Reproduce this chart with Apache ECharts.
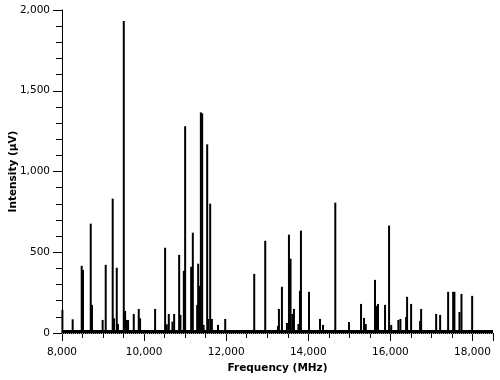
<!DOCTYPE html>
<html>
<head>
<meta charset="utf-8">
<script src="https://cdn.jsdelivr.net/npm/echarts@6/dist/echarts.min.js"></script>
<style>
body { margin: 0; padding: 0; background: #fff; }
#main { width: 500px; height: 380px; }
</style>
</head>
<body>
<div id="main"></div>
<script>
// peak positions (MHz) and heights (uV)
var freqs = [8010, 8260, 8480, 8512, 8700, 8730, 8990, 9065, 9235, 9268,
  9334, 9365, 9505, 9537, 9578, 9610, 9748, 9870, 9902, 10268,
  10512, 10553, 10602, 10690, 10732, 10854, 10885, 10968, 11000, 11146,
  11187, 11293, 11317, 11350, 11383, 11415, 11450, 11537, 11561, 11610,
  11651, 11800, 11976, 12683, 12951, 13260, 13285, 13358, 13480, 13529,
  13568, 13610, 13651, 13760, 13797, 13821, 14017, 14285, 14358, 14658,
  14992, 15285, 15358, 15400, 15626, 15666, 15699, 15870, 15968, 16020,
  16195, 16244, 16383, 16407, 16505, 16724, 16749, 17115, 17212, 17407,
  17529, 17560, 17683, 17732, 17992]
var intensity = [143, 85, 416, 391, 677, 174, 81, 422, 832, 91,
  404, 56, 1932, 137, 81, 80, 118, 149, 91, 149,
  528, 54, 118, 70, 118, 484, 112, 385, 1280, 410,
  621, 174, 429, 292, 1366, 1360, 50, 1168, 87, 801,
  87, 50, 87, 366, 571, 43, 149, 286, 62, 609,
  460, 118, 149, 56, 261, 634, 255, 87, 50, 807,
  68, 180, 93, 56, 329, 168, 180, 174, 665, 50,
  81, 87, 99, 224, 180, 75, 149, 118, 112, 255,
  255, 255, 130, 242, 230]
// noise floor level
var floorFreq = [8000, 18500]
var floorLevel = [9, 9]

var peaks = []
for (var i = 0; i < freqs.length; i++) {
  peaks.push([freqs[i], intensity[i]])
}
var floor = []
for (var j = 0; j < floorFreq.length; j++) {
  floor.push([floorFreq[j], floorLevel[j]])
}

var fnt = 'DejaVu Sans'
function commas (v) {
  return String(v).replace(/\B(?=(\d{3})+(?!\d))/g, ',')
}

var myChart = echarts.init(document.getElementById('main'))
myChart.setOption({
  animation: false,
  grid: { left: 62, right: 7, top: 10, bottom: 47, containLabel: false, outerBoundsMode: 'none' },
  xAxis: {
    type: 'value',
    min: 8000,
    max: 18500,
    interval: 2000,
    offset: 2,
    name: 'Frequency (MHz)',
    nameLocation: 'middle',
    nameGap: 27,
    nameTextStyle: { fontFamily: fnt, fontSize: 10.5, fontWeight: 'bold', color: '#000' },
    axisLine: { lineStyle: { color: '#000', width: 1 } },
    axisTick: { length: 8, lineStyle: { color: '#000' } },
    minorTick: { show: true, splitNumber: 4, length: 5, lineStyle: { color: '#000' } },
    splitLine: { show: false },
    axisLabel: {
      margin: 12,
      fontFamily: fnt,
      fontSize: 10.5,
      color: '#000',
      formatter: function (v) { return v % 2000 === 0 ? commas(v) : '' }
    }
  },
  yAxis: {
    type: 'value',
    min: 0,
    max: 2000,
    interval: 500,
    name: 'Intensity (\u00b5V)',
    nameLocation: 'middle',
    nameGap: 43,
    nameMoveOverlap: false,
    nameTextStyle: { fontFamily: fnt, fontSize: 10.5, fontWeight: 'bold', color: '#000' },
    axisLine: { show: true, lineStyle: { color: '#000', width: 1 } },
    axisTick: { show: true, length: 9, lineStyle: { color: '#000' } },
    minorTick: { show: true, splitNumber: 5, length: 6, lineStyle: { color: '#000' } },
    splitLine: { show: false },
    axisLabel: {
      margin: 12,
      fontFamily: fnt,
      fontSize: 10.5,
      color: '#000',
      formatter: function (v) { return commas(v) }
    }
  },
  series: [
    {
      type: 'line',
      data: floor,
      symbol: 'none',
      lineStyle: { color: '#000', width: 3 },
      markLine: {
        silent: true,
        symbol: 'none',
        label: { show: false },
        lineStyle: { color: '#999', type: 'dotted', width: 1 },
        data: [{ yAxis: 0 }]
      },
      z: 1
    },
    {
      type: 'bar',
      data: peaks,
      barWidth: 2,
      itemStyle: { color: '#000' },
      z: 2
    }
  ]
})
</script>
</body>
</html>
